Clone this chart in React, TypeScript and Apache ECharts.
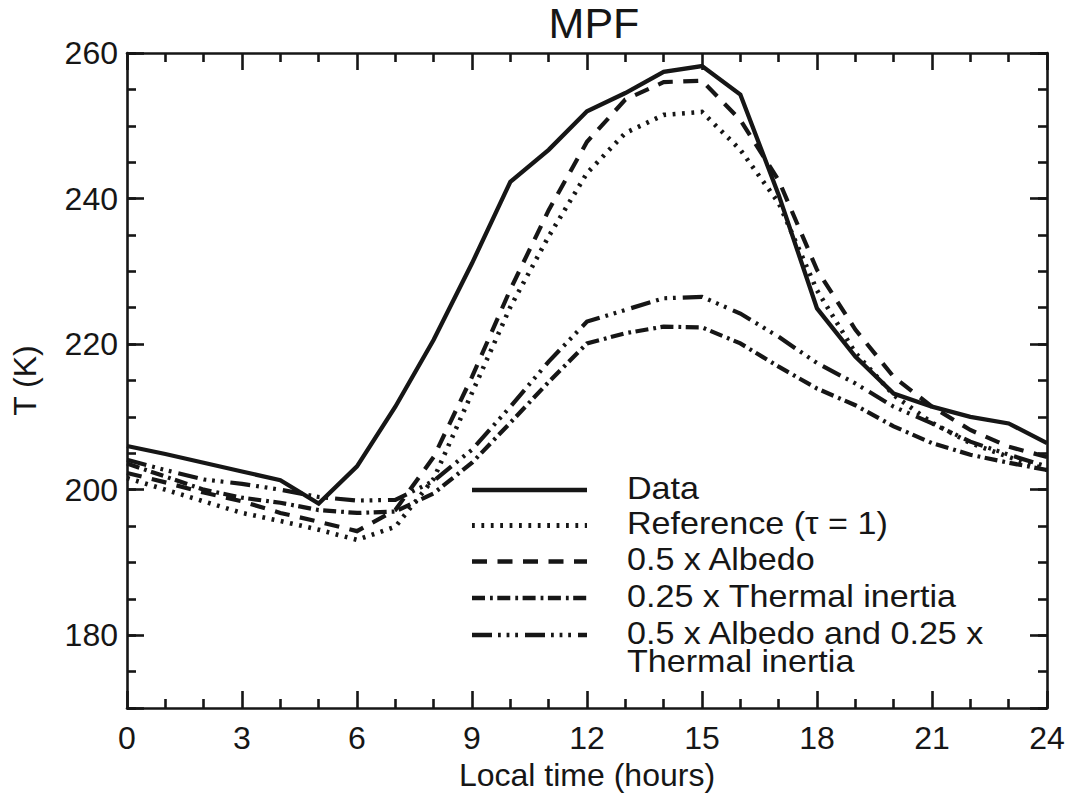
import React, { useEffect, useRef } from "react";
import * as echarts from "echarts";

// ---- data ----
const hours = [0, 1, 2, 3, 4, 5, 6, 7, 8, 9, 10, 11, 12, 13, 14, 15, 16, 17, 18, 19, 20, 21, 22, 23, 24];
const dataT = [206.0, 204.9, 203.7, 202.5, 201.3, 198.1, 203.2, 211.4, 220.6, 231.1, 242.3, 246.7, 252.0, 254.5, 257.4, 258.2, 254.3, 240.5, 224.9, 218.3, 213.2, 211.4, 210.0, 209.1, 206.4];
const referenceT = [201.6, 200.0, 198.4, 196.8, 195.7, 194.5, 193.1, 194.9, 201.5, 213.3, 225.1, 234.8, 243.5, 249.0, 251.5, 251.9, 246.7, 239.4, 227.4, 218.8, 213.0, 209.2, 206.4, 204.5, 202.7];
const albedoT = [202.3, 201.0, 199.6, 198.4, 196.8, 195.6, 194.3, 197.2, 204.5, 215.5, 227.5, 238.4, 247.8, 253.6, 256.0, 256.2, 250.8, 242.5, 230.2, 222.0, 215.5, 211.4, 208.2, 205.9, 204.5];
const inertiaT = [203.6, 201.8, 200.0, 198.9, 198.2, 197.2, 196.8, 197.0, 199.5, 203.7, 209.2, 214.8, 220.1, 221.5, 222.4, 222.3, 220.1, 216.9, 213.9, 211.6, 208.7, 206.4, 204.8, 203.7, 202.7];
const albedoInertiaT = [204.1, 202.7, 201.4, 200.8, 200.0, 199.0, 198.5, 198.6, 201.2, 205.5, 211.4, 217.6, 223.1, 224.7, 226.3, 226.5, 224.2, 221.0, 217.4, 214.6, 211.4, 209.1, 206.6, 204.8, 203.2];

const seriesNames = [
  "Data",
  "Reference (τ = 1)",
  "0.5 x Albedo",
  "0.25 x Thermal inertia",
  "0.5 x Albedo and 0.25 x Thermal inertia",
];
const legendLines = [
  ["Data"],
  ["Reference (τ = 1)"],
  ["0.5 x Albedo"],
  ["0.25 x Thermal inertia"],
  ["0.5 x Albedo and 0.25 x", "Thermal inertia"],
];
const seriesValues = [dataT, referenceT, albedoT, inertiaT, albedoInertiaT];

// ---- styles ----
const INK = "#161616";
const FONT = '"Liberation Sans", Arial, Helvetica, sans-serif';
const dashes: (number[] | "solid")[] = [
  "solid",
  [2.8, 6.6],
  [15, 10.5],
  [13, 5, 2.8, 4.5],
  [20, 6, 2.8, 5.8, 2.8, 5.8, 2.8, 7],
];
const widths = [4.3, 4.6, 4.2, 4.2, 4.2];

export default function App() {
  const ref = useRef<HTMLDivElement>(null);

  useEffect(() => {
    document.body.style.margin = "0";
    const chart = echarts.init(ref.current!, null, { renderer: "svg" });

    const axisLine = { show: true, onZero: false, lineStyle: { color: INK, width: 2.6 } };

    const xBase = {
      type: "value" as const,
      min: 0,
      max: 24,
      interval: 3,
      axisLine,
      axisTick: { show: true, inside: true, length: 17, lineStyle: { color: INK, width: 2.6 } },
      minorTick: { show: true, splitNumber: 3, length: 9, lineStyle: { color: INK, width: 2.6 } },
      splitLine: { show: false },
      minorSplitLine: { show: false },
    };

    const yMinor = (position: "left" | "right") => ({
      type: "value" as const,
      position,
      min: 170,
      max: 260,
      interval: 5,
      axisLine,
      axisTick: { show: true, inside: true, length: 9, lineStyle: { color: INK, width: 2.6 } },
      axisLabel: { show: false },
      splitLine: { show: false },
    });

    const yMajor = (position: "left" | "right", labels: boolean) => ({
      type: "value" as const,
      position,
      inverse: true,
      min: -260,
      max: -170,
      interval: 20,
      axisLine: { show: false, onZero: false },
      axisTick: { show: true, inside: true, length: 17, lineStyle: { color: INK, width: 2.6 } },
      axisLabel: {
        show: labels,
        fontSize: 32,
        fontFamily: FONT,
        color: INK,
        margin: 9,
        formatter: (v: number) => (v === -170 ? "" : String(-v)),
      },
      splitLine: { show: false },
      ...(labels
        ? {
            name: "T (K)",
            nameLocation: "middle" as const,
            nameGap: 86,
            nameTextStyle: { fontSize: 32, fontFamily: FONT, color: INK },
          }
        : {}),
    });

    const series = seriesValues.map((vals, i) => ({
      name: seriesNames[i],
      type: "line" as const,
      xAxisIndex: 0,
      yAxisIndex: 0,
      data: hours.map((h, j) => [h, vals[j]]),
      symbol: "none",
      showSymbol: false,
      lineStyle: { color: INK, width: widths[i], type: dashes[i], cap: "butt" as const, join: "miter" as const },
      z: 10 - i,
    }));

    const legendRowY = [490, 525.5, 561.5, 598, 635];
    const graphic: any[] = [];
    legendLines.forEach((lines, i) => {
      const d = dashes[i];
      graphic.push({
        type: "line",
        shape: { x1: 472, y1: legendRowY[i], x2: 587, y2: legendRowY[i] },
        style: { stroke: INK, lineWidth: widths[i] + 0.4, lineDash: d === "solid" ? null : d, lineCap: "butt" },
      });
      lines.forEach((t, k) => {
        graphic.push({
          type: "text",
          x: 627,
          y: legendRowY[i] - 1.5 + k * 28,
          scaleX: 1.1,
          style: {
            text: t,
            fontSize: 31,
            fontFamily: FONT,
            fill: INK,
            verticalAlign: "middle",
            align: "left",
          },
        });
      });
    });

    chart.setOption({
      animation: false,
      backgroundColor: "#ffffff",
      title: {
        text: "MPF",
        left: 589,
        top: -4,
        textAlign: "center",
        textStyle: { fontSize: 43, fontWeight: "normal", fontFamily: FONT, color: INK },
      },
      grid: { left: 127, right: 30, top: 53, bottom: 90, containLabel: false },
      xAxis: [
        {
          ...xBase,
          position: "bottom",
          axisLabel: { show: true, fontSize: 32, fontFamily: FONT, color: INK, margin: 14 },
          name: "Local time (hours)",
          nameLocation: "middle",
          nameGap: 48,
          nameTextStyle: { fontSize: 32, fontFamily: FONT, color: INK },
        },
        { ...xBase, position: "top", axisLabel: { show: false } },
      ],
      yAxis: [yMinor("left"), yMajor("left", true), yMinor("right"), yMajor("right", false)],
      series,
      graphic,
    });

    return () => chart.dispose();
  }, []);

  return <div ref={ref} style={{ width: 1077, height: 798 }} />;
}
